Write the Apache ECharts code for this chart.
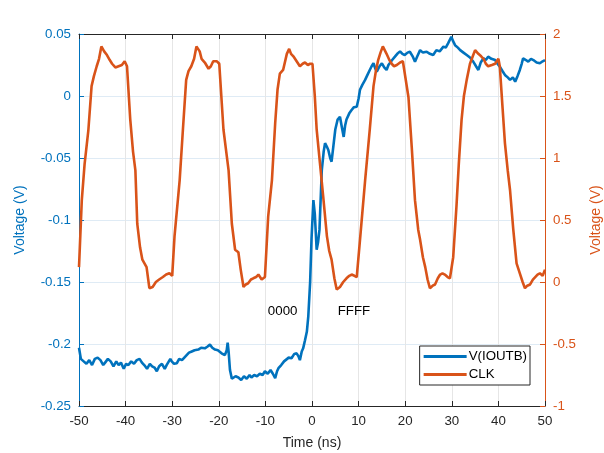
<!DOCTYPE html>
<html>
<head>
<meta charset="utf-8">
<script src="https://cdn.jsdelivr.net/npm/echarts@6/dist/echarts.min.js"></script>
<style>
  html, body { margin: 0; padding: 0; background: #fff; }
  #chart { width: 604px; height: 453px; }
</style>
</head>
<body>
<div id="chart"></div>
<script>
// x-axis ticks (ns)
const timeTicks = [-50, -40, -30, -20, -10, 0, 10, 20, 30, 40, 50]

// V(IOUTB), left axis: [time ns, voltage V]
const ioutbData = [
  [-50, -0.203], [-49.6, -0.212], [-49.0, -0.214], [-48.4, -0.216], [-47.8, -0.213],
  [-47.2, -0.217], [-46.6, -0.212], [-46.0, -0.211], [-45.4, -0.213], [-44.8, -0.217],
  [-44.4, -0.215], [-43.8, -0.212], [-43.2, -0.214], [-42.6, -0.218], [-42.0, -0.214],
  [-41.5, -0.217], [-41.0, -0.215], [-40.4, -0.220], [-39.9, -0.216], [-39.4, -0.217],
  [-38.8, -0.214], [-38.2, -0.216], [-37.6, -0.213], [-37.0, -0.212], [-36.5, -0.215],
  [-36.0, -0.217], [-35.4, -0.220], [-34.8, -0.216], [-34.3, -0.218], [-33.8, -0.219],
  [-33.3, -0.222], [-32.8, -0.218], [-32.2, -0.216], [-31.6, -0.220], [-31.2, -0.217],
  [-30.8, -0.218], [-30.4, -0.212], [-30.1, -0.214], [-29.6, -0.216], [-29.0, -0.2155],
  [-28.5, -0.212], [-27.9, -0.213], [-27.4, -0.211], [-26.9, -0.209], [-26.4, -0.207],
  [-25.8, -0.206], [-25.2, -0.205], [-24.4, -0.2045], [-23.8, -0.203], [-23.0, -0.2035],
  [-22.4, -0.202], [-21.9, -0.2005], [-21.4, -0.203], [-20.8, -0.2045], [-20.2, -0.205],
  [-19.4, -0.2075], [-18.7, -0.209], [-18.3, -0.205], [-18.1, -0.199], [-17.9, -0.206],
  [-17.6, -0.221], [-17.2, -0.228], [-16.9, -0.229], [-16.4, -0.226], [-15.8, -0.227],
  [-15.2, -0.229], [-14.6, -0.226], [-14.0, -0.228], [-13.4, -0.225], [-13.0, -0.227],
  [-12.4, -0.225], [-11.8, -0.226], [-11.2, -0.224], [-10.6, -0.225], [-10.1, -0.222],
  [-9.5, -0.224], [-8.9, -0.221], [-8.4, -0.224], [-7.9, -0.2275], [-7.5, -0.222],
  [-7.2, -0.2195], [-6.6, -0.217], [-6.0, -0.214], [-5.6, -0.215], [-5.0, -0.211],
  [-4.4, -0.2115], [-3.8, -0.208], [-3.3, -0.2075], [-2.9, -0.210], [-2.6, -0.213],
  [-2.2, -0.206], [-1.9, -0.2035], [-1.5, -0.197], [-1.1, -0.19], [-0.8, -0.178],
  [-0.4, -0.150], [-0.1, -0.115], [0.3, -0.084], [0.6, -0.095], [1.0, -0.124],
  [1.3, -0.118], [1.6, -0.108], [2.1, -0.060], [2.5, -0.045], [2.8, -0.038],
  [3.2, -0.041], [3.5, -0.0435], [3.9, -0.050], [4.2, -0.053], [4.6, -0.040],
  [5.0, -0.027], [5.5, -0.019], [6.0, -0.0167], [6.4, -0.025], [6.8, -0.033],
  [7.1, -0.024], [7.4, -0.019], [8.0, -0.014], [8.5, -0.0113], [9.0, -0.009],
  [9.6, -0.0086], [10.0, -0.002], [10.3, 0.005], [10.8, 0.009], [11.4, 0.013],
  [11.9, 0.017], [12.4, 0.021], [12.8, 0.024], [13.2, 0.0264], [13.6, 0.022],
  [13.9, 0.0196], [14.5, 0.024], [15.0, 0.0264], [15.5, 0.023], [16.0, 0.021],
  [16.4, 0.025], [16.7, 0.0264], [17.2, 0.029], [17.8, 0.0317], [18.3, 0.034],
  [18.9, 0.036], [19.4, 0.034], [19.9, 0.033], [20.5, 0.035], [21.0, 0.0357],
  [21.6, 0.032], [22.1, 0.0277], [22.6, 0.032], [23.2, 0.037], [23.8, 0.035],
  [24.6, 0.0357], [25.3, 0.034], [26.0, 0.033], [26.7, 0.037], [27.4, 0.036],
  [28.2, 0.0398], [28.7, 0.039], [29.2, 0.0425], [29.6, 0.044], [29.9, 0.0478],
  [30.3, 0.044], [30.7, 0.041], [31.3, 0.039], [31.8, 0.037], [32.5, 0.035],
  [33.2, 0.033], [33.9, 0.031], [34.6, 0.0277], [35.2, 0.024], [35.7, 0.021],
  [36.2, 0.027], [36.8, 0.0304], [37.3, 0.029], [37.8, 0.0317], [38.5, 0.030],
  [39.3, 0.029], [39.8, 0.026], [40.3, 0.0237], [40.9, 0.020], [41.4, 0.017],
  [42.0, 0.015], [42.5, 0.013], [43.1, 0.015], [43.6, 0.0116], [44.1, 0.016],
  [44.6, 0.021], [45.0, 0.026], [45.3, 0.0304], [45.9, 0.029], [46.4, 0.0277],
  [47.0, 0.030], [47.5, 0.029], [48.2, 0.027], [48.9, 0.0264], [49.5, 0.028],
  [50.0, 0.029]
]

// CLK, right axis: [time ns, voltage V]
const clkData = [
  [-50, 0.12], [-49.4, 0.66], [-48.8, 0.95], [-48.0, 1.22], [-47.3, 1.58],
  [-46.8, 1.66], [-46.2, 1.74], [-45.7, 1.80], [-45.2, 1.90], [-44.6, 1.86],
  [-44.0, 1.83], [-43.4, 1.79], [-42.9, 1.76], [-42.2, 1.73], [-41.5, 1.74],
  [-40.8, 1.75], [-40.2, 1.78], [-39.7, 1.74], [-39.0, 1.31], [-38.4, 1.05],
  [-37.9, 0.90], [-37.5, 0.47], [-36.9, 0.28], [-36.4, 0.18], [-35.5, 0.12],
  [-34.9, -0.05], [-34.2, -0.04], [-33.5, 0.00], [-32.8, 0.02], [-32.0, 0.04],
  [-31.3, 0.06], [-30.6, 0.07], [-30.0, 0.05], [-29.5, 0.37], [-28.4, 0.82],
  [-27.7, 1.23], [-27.0, 1.63], [-26.5, 1.70], [-25.9, 1.74], [-25.3, 1.80],
  [-24.8, 1.90], [-24.1, 1.86], [-23.7, 1.80], [-23.0, 1.77], [-22.2, 1.72],
  [-21.7, 1.74], [-21.2, 1.78], [-20.4, 1.78], [-19.9, 1.76], [-19.0, 1.23],
  [-18.4, 1.05], [-17.9, 0.90], [-17.2, 0.47], [-16.5, 0.26], [-15.8, 0.24],
  [-15.3, 0.10], [-14.7, -0.04], [-14.2, -0.02], [-13.7, -0.01], [-13.1, 0.02],
  [-12.6, 0.03], [-12.0, 0.04], [-11.5, 0.06], [-10.8, 0.02], [-10.1, 0.04],
  [-9.4, 0.53], [-8.6, 0.82], [-7.9, 1.28], [-7.4, 1.55], [-6.9, 1.68],
  [-6.2, 1.71], [-5.4, 1.84], [-4.9, 1.88], [-4.5, 1.84], [-4.0, 1.82],
  [-3.3, 1.78], [-2.6, 1.74], [-2.0, 1.76], [-1.5, 1.77], [-0.9, 1.75],
  [-0.4, 1.76], [0.1, 1.76], [0.6, 1.50], [1.0, 1.23], [1.7, 0.96],
  [2.4, 0.69], [3.2, 0.37], [3.7, 0.25], [4.2, 0.18], [4.8, 0.03],
  [5.3, -0.06], [6.0, -0.04], [6.7, 0.00], [7.4, 0.03], [8.0, 0.05],
  [8.5, 0.06], [9.1, 0.05], [9.6, 0.04], [10.3, 0.34], [11.4, 0.82],
  [12.4, 1.23], [13.2, 1.58], [13.7, 1.70], [14.2, 1.79], [14.7, 1.85],
  [15.2, 1.90], [15.6, 1.87], [16.0, 1.84], [16.6, 1.79], [17.1, 1.76],
  [17.6, 1.74], [18.2, 1.75], [18.9, 1.77], [19.5, 1.78], [19.9, 1.78],
  [20.7, 1.49], [21.4, 1.09], [22.1, 0.66], [22.8, 0.42], [23.2, 0.34],
  [23.8, 0.20], [24.3, 0.12], [24.8, 0.02], [25.3, -0.05], [25.9, -0.03],
  [26.4, -0.02], [27.0, 0.03], [27.5, 0.06], [28.0, 0.07], [28.5, 0.06],
  [29.1, 0.04], [29.6, 0.03], [30.3, 0.20], [31.0, 0.61], [31.5, 0.95],
  [32.1, 1.31], [32.6, 1.50], [33.2, 1.63], [33.9, 1.76], [34.5, 1.82],
  [35.0, 1.87], [35.7, 1.84], [36.3, 1.82], [36.8, 1.80], [37.3, 1.76],
  [37.8, 1.74], [38.6, 1.75], [39.3, 1.76], [40.0, 1.80], [40.3, 1.74],
  [40.9, 1.40], [41.4, 1.12], [42.0, 0.90], [42.5, 0.74], [43.2, 0.42],
  [43.9, 0.15], [44.6, 0.07], [45.2, 0.00], [45.7, -0.05], [46.2, -0.03],
  [46.8, -0.02], [47.4, 0.02], [47.9, 0.04], [48.4, 0.06], [48.9, 0.07],
  [49.5, 0.05], [50.0, 0.10]
]

// text annotations in data coordinates [time, left-axis voltage]
const annotations = [
  { text: '0000', coord: [-6.3, -0.174] },
  { text: 'FFFF', coord: [9.0, -0.174] }
]

const blue = '#0072BD'
const orange = '#D95319'
const font = 'Liberation Sans, Arial, sans-serif'

const chart = echarts.init(document.getElementById('chart'))

const option = {
  animation: false,
  textStyle: { fontFamily: font },
  grid: { left: 79, right: 59, top: 34, bottom: 47, outerBoundsMode: 'none' },
  legend: {
    right: 74,
    bottom: 68,
    orient: 'vertical',
    itemWidth: 43,
    itemHeight: 3,
    itemGap: 5,
    padding: [4, 3, 4, 4],
    borderColor: '#262626',
    borderWidth: 1,
    borderRadius: 0,
    backgroundColor: '#fff',
    textStyle: { fontSize: 13.3, color: '#000', padding: [0, 0, 0, -3] },
    data: [
      { name: 'V(IOUTB)', icon: 'rect' },
      { name: 'CLK', icon: 'rect' }
    ]
  },
  xAxis: [
    {
      type: 'value',
      min: timeTicks[0],
      max: timeTicks[timeTicks.length - 1],
      interval: 10,
      name: 'Time (ns)',
      nameLocation: 'middle',
      nameGap: 30,
      nameTextStyle: { fontSize: 14, color: '#262626' },
      axisLine: { onZero: false, lineStyle: { color: '#262626', width: 1 } },
      axisTick: { inside: true, length: 5, lineStyle: { color: '#262626' } },
      axisLabel: { fontSize: 13.3, color: '#262626', margin: 9 },
      splitLine: { show: true, lineStyle: { color: '#e6e6e6', width: 1 } }
    },
    {
      type: 'value',
      position: 'top',
      min: timeTicks[0],
      max: timeTicks[timeTicks.length - 1],
      interval: 10,
      axisLine: { onZero: false, lineStyle: { color: '#262626', width: 1 } },
      axisTick: { inside: true, length: 5, lineStyle: { color: '#262626' } },
      axisLabel: { show: false },
      splitLine: { show: false }
    }
  ],
  yAxis: [
    {
      type: 'value',
      position: 'left',
      min: -0.25,
      max: 0.05,
      interval: 0.05,
      name: 'Voltage (V)',
      nameLocation: 'middle',
      nameGap: 52,
      nameTextStyle: { fontSize: 14, color: blue },
      axisLine: { show: true, onZero: false, lineStyle: { color: blue, width: 1 } },
      axisTick: { show: true, inside: true, length: 5, lineStyle: { color: blue } },
      axisLabel: {
        fontSize: 13.3,
        color: blue,
        margin: 8,
        formatter: v => {
          const r = Math.round(v * 100) / 100
          return r === 0 ? '0' : String(r)
        }
      },
      splitLine: { show: true, lineStyle: { color: '#dfebf5', width: 1 } }
    },
    {
      type: 'value',
      position: 'right',
      min: -1,
      max: 2,
      interval: 0.5,
      name: 'Voltage (V)',
      nameLocation: 'middle',
      nameGap: 44,
      nameRotate: 90,
      nameTextStyle: { fontSize: 14, color: orange },
      axisLine: { show: true, onZero: false, lineStyle: { color: orange, width: 1 } },
      axisTick: { show: true, inside: true, length: 5, lineStyle: { color: orange } },
      axisLabel: { fontSize: 13.3, color: orange, margin: 8 },
      splitLine: { show: false }
    }
  ],
  series: [
    {
      name: 'V(IOUTB)',
      type: 'line',
      yAxisIndex: 0,
      data: ioutbData,
      showSymbol: false,
      color: blue,
      lineStyle: { width: 2.6, color: blue },
      z: 3,
      markPoint: {
        symbol: 'rect',
        symbolSize: 1,
        itemStyle: { color: 'transparent' },
        label: {
          show: true,
          position: 'inside',
          color: '#000',
          fontSize: 13.3,
          fontFamily: font,
          formatter: p => p.name
        },
        data: annotations.map(a => ({ name: a.text, coord: a.coord }))
      }
    },
    {
      name: 'CLK',
      type: 'line',
      yAxisIndex: 1,
      data: clkData,
      showSymbol: false,
      color: orange,
      lineStyle: { width: 2.6, color: orange },
      z: 4
    }
  ]
}

chart.setOption(option)
</script>
</body>
</html>
